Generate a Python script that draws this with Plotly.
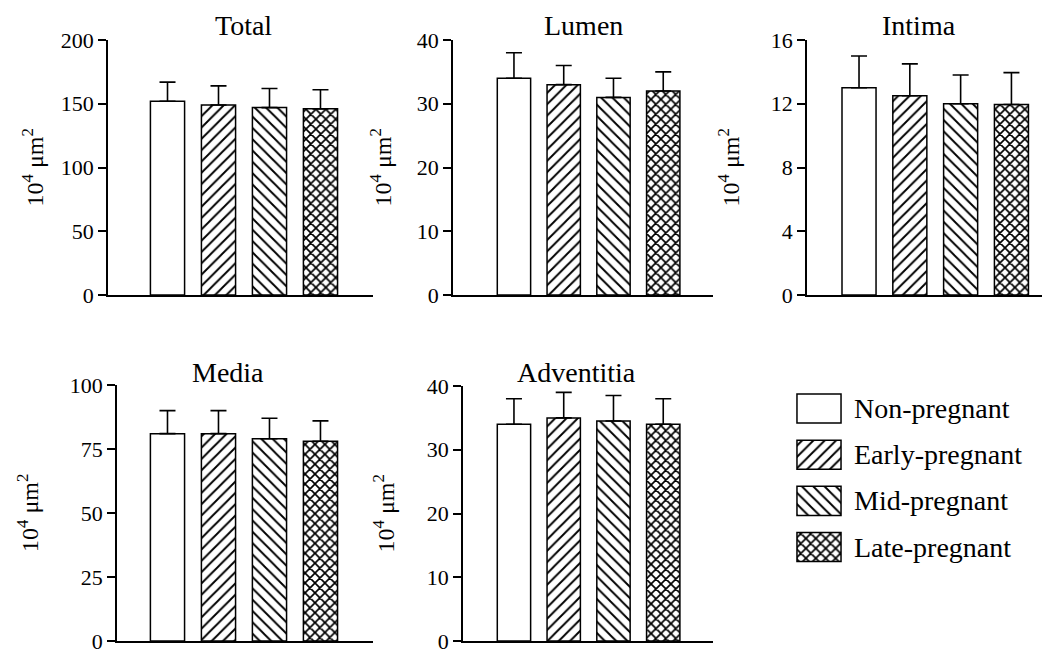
import plotly.graph_objects as go

# ---------------- data ----------------
categories = ["Non-pregnant", "Early-pregnant", "Mid-pregnant", "Late-pregnant"]
panel_names = ["Total", "Lumen", "Intima", "Media", "Adventitia"]

total_mean = [152, 149, 147, 146]
total_sd = [15, 15, 15, 15]
lumen_mean = [34, 33, 31, 32]
lumen_sd = [4, 3, 3, 3]
intima_mean = [13, 12.5, 12, 11.95]
intima_sd = [2, 2, 1.8, 2]
media_mean = [81, 81, 79, 78]
media_sd = [9, 9, 8, 8]
advent_mean = [34, 35, 34.5, 34]
advent_sd = [4, 4, 4, 4]

total_ticks = [0, 50, 100, 150, 200]
lumen_ticks = [0, 10, 20, 30, 40]
intima_ticks = [0, 4, 8, 12, 16]
media_ticks = [0, 25, 50, 75, 100]
advent_ticks = [0, 10, 20, 30, 40]

y_unit_label = "10<sup>4</sup> μm<sup>2</sup>"

# ---------------- styling / layout ----------------
OFF = 8  # page body margin of the html page
W, H = 1050 - OFF, 653 - OFF
FONT = "Liberation Serif"
patterns = ["", "/", "\\", "x"]
pattern_sizes = [8, 8, 8, 7]
pattern_solid = [0.2, 0.24, 0.24, 0.42]


def px_x(p):
    return (p - OFF) / W


def px_y(p):
    return 1 - (p - OFF) / H


# per panel: (means, sds, ticks, x-domain px, y-domain px (top,bottom), x-range, title x px, title y px, ytitle x px)
panels = [
    (total_mean, total_sd, total_ticks, (108, 373), (40, 295), (-1.167, 4.03), 243, None, 32),
    (lumen_mean, lumen_sd, lumen_ticks, (453, 713), (40, 295), (-1.225, 4.0), 583, None, 380),
    (intima_mean, intima_sd, intima_ticks, (807, 1047), (40, 295), (-1.024, 3.70), 919, None, 728),
    (media_mean, media_sd, media_ticks, (117, 373), (385, 641), (-0.99, 4.03), 228, 372, 28),
    (advent_mean, advent_sd, advent_ticks, (463, 713), (386, 641), (-1.024, 4.0), 576, 372, 383),
]

fig = go.Figure()
layout = dict(
    width=W, height=H,
    margin=dict(l=0, r=0, t=0, b=0),
    paper_bgcolor="white", plot_bgcolor="white",
    showlegend=False,
    font=dict(family=FONT, color="black", size=22),
)
annotations = []

xs = list(range(len(categories)))


def bar_marker():
    return dict(
        color="white",
        line=dict(color="black", width=1.5),
        pattern=dict(shape=patterns, fgcolor="black", bgcolor="white",
                     fgopacity=1, size=pattern_sizes, solidity=pattern_solid),
    )


for i, (mean, sd, ticks, xd, yd, xr, tx, ty, ytx) in enumerate(panels):
    n = i + 1
    suffix = "" if n == 1 else str(n)
    fig.add_trace(go.Bar(
        x=xs, y=mean, width=0.67,
        xaxis="x" + suffix, yaxis="y" + suffix,
        marker=bar_marker(),
        error_y=dict(type="data", symmetric=False, array=sd,
                     arrayminus=[0] * len(sd), color="black",
                     thickness=1.6, width=8),
        hoverinfo="skip",
    ))
    layout["xaxis" + suffix] = dict(
        domain=[px_x(xd[0]), px_x(xd[1])], range=list(xr),
        anchor="y" + suffix, showline=True, linecolor="black", linewidth=1.5,
        ticks="", showticklabels=False, showgrid=False, zeroline=False,
        automargin=False, fixedrange=True,
    )
    layout["yaxis" + suffix] = dict(
        domain=[px_y(yd[1]), px_y(yd[0])], range=[ticks[0], ticks[-1]],
        anchor="x" + suffix, tickmode="array", tickvals=ticks,
        ticktext=[str(t) for t in ticks],
        ticks="outside", ticklen=8, tickwidth=1.5, tickcolor="black",
        showline=True, linecolor="black", linewidth=1.5,
        showgrid=False, zeroline=False, automargin=False,
        ticklabeloverflow="allow",
        tickfont=dict(family=FONT, size=22, color="black"), fixedrange=True,
    )
    if ty is None:
        title_pos = dict(y=1, yanchor="top")
    else:
        title_pos = dict(y=px_y(ty), yanchor="middle")
    annotations.append(dict(
        text=panel_names[i], x=px_x(tx), xref="paper", yref="paper",
        xanchor="center", showarrow=False,
        font=dict(family=FONT, size=28, color="black"), **title_pos,
    ))
    annotations.append(dict(
        text=y_unit_label, x=px_x(ytx), y=px_y((yd[0] + yd[1]) / 2),
        xref="paper", yref="paper", xanchor="center", yanchor="middle",
        textangle=-90, showarrow=False,
        font=dict(family=FONT, size=24, color="black"),
    ))

# ---------------- legend (drawn as a small subplot) ----------------
LEG_TOP, LEG_BOT, LEG_STEP, LEG_PAD = 390, 565, 46.2, 0.4
fig.add_trace(go.Bar(
    y=xs, x=[1] * len(categories), base=0, orientation="h", width=0.628,
    xaxis="x6", yaxis="y6",
    marker=bar_marker(),
    hoverinfo="skip",
))
leg_units = (LEG_BOT - LEG_TOP) / LEG_STEP
layout["xaxis6"] = dict(domain=[px_x(796), px_x(842)], range=[-0.022, 1.022],
                        anchor="y6", showline=False, showgrid=False, zeroline=False,
                        ticks="", showticklabels=False, fixedrange=True)
layout["yaxis6"] = dict(domain=[px_y(LEG_BOT), px_y(LEG_TOP)],
                        range=[leg_units - LEG_PAD, -LEG_PAD],
                        anchor="x6", showline=False, showgrid=False, zeroline=False,
                        ticks="", showticklabels=False, fixedrange=True)
for i, c in enumerate(categories):
    cy = LEG_TOP + (i + LEG_PAD) * LEG_STEP
    annotations.append(dict(
        text=c, x=px_x(852), y=px_y(cy), xref="paper", yref="paper",
        xanchor="left", yanchor="middle", showarrow=False,
        font=dict(family=FONT, size=28, color="black"),
    ))

layout["annotations"] = annotations
fig.update_layout(**layout)
fig.write_html("out.html")
